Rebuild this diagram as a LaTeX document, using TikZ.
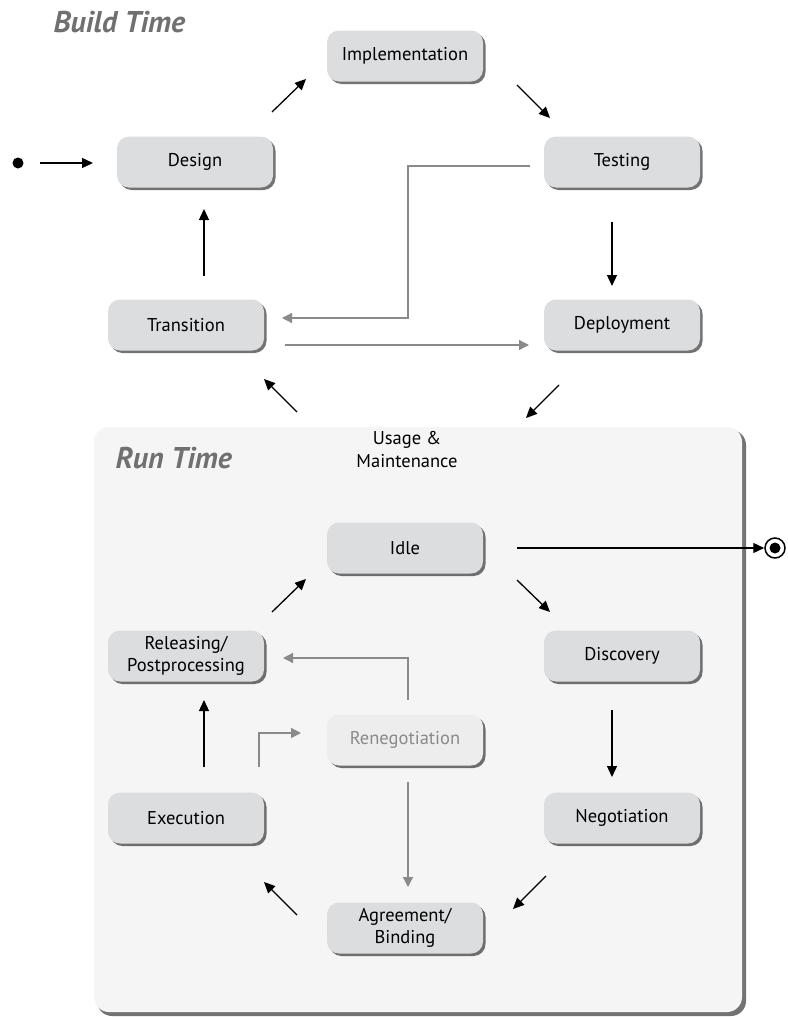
\documentclass[tikz,border=0pt]{standalone}
\usepackage{fontspec}
\setmainfont{PT Sans}
\usetikzlibrary{arrows.meta,shadows,positioning}
\definecolor{boxfill}{HTML}{DCDDDF}
\definecolor{renfill}{HTML}{EDEDED}
\definecolor{runfill}{HTML}{F5F5F5}
\definecolor{titlegray}{HTML}{707070}
\definecolor{linegray}{HTML}{8A8A8A}
\tikzset{
  state/.style={rectangle, rounded corners=12pt, fill=boxfill, minimum width=156pt, minimum height=51pt,
    align=center, font=\fontsize{18.5}{22}\selectfont,
    drop shadow={shadow xshift=2.5pt, shadow yshift=-2.5pt, fill=black, opacity=0.55}},
  faded/.style={state, fill=renfill, text=linegray},
  flow/.style={line width=1.3pt, -{Triangle[length=11pt,width=10pt]}},
  gflow/.style={line width=1.3pt, draw=linegray, -{Triangle[length=10pt,width=10pt]}, color=linegray},
  title/.style={font=\fontsize{30}{34}\selectfont\bfseries\itshape, text=titlegray, anchor=west}
}
\begin{document}
\begin{tikzpicture}[x=1pt,y=-1pt]
\useasboundingbox (0,0) rectangle (787,1017);
% run time panel
\fill[black!55, rounded corners=15pt] (97,430) rectangle (746,1016);
\fill[runfill, rounded corners=15pt] (94,427) rectangle (742,1012);

\node[title] (bt) at (50,22) {Build Time};
\node[title] (rt) at (112,458) {Run Time};
\node[align=center, font=\fontsize{18.5}{23}\selectfont] (usage) at (407,450) {Usage \&\\Maintenance};

\node[state] (impl) at (405,56) {Implementation};
\node[state] (design) at (195,162) {Design};
\node[state] (test) at (622,162) {Testing};
\node[state] (trans) at (186,325) {Transition};
\node[state] (deploy) at (622,325) {Deployment};
\node[state] (idle) at (405,548) {Idle};
\node[state] (disc) at (622,656) {Discovery};
\node[state] (rel) at (186,656) {Releasing/\\Postprocessing};
\node[faded] (reneg) at (405,740) {Renegotiation};
\node[state] (exec) at (186,818) {Execution};
\node[state] (nego) at (622,818) {Negotiation};
\node[state] (agree) at (405,928) {Agreement/\\Binding};

% start and end markers
\fill (18,163) circle (5.5pt);
\coordinate (s1) at (40,163); \coordinate (s2) at (93,163);
\draw[flow] (s1) -- (s2);
\node[circle, draw, line width=1.5pt, minimum size=20pt, inner sep=0pt] (endst) at (775,548) {};
\fill (endst.center) circle (5.5pt);

% black flow arrows
\coordinate (a1) at (272,112); \coordinate (a2) at (306,79);
\draw[flow] (a1) -- (a2);
\coordinate (b1) at (517,85); \coordinate (b2) at (550,118);
\draw[flow] (b1) -- (b2);
\coordinate (c1) at (612,222); \coordinate (c2) at (612,286);
\draw[flow] (c1) -- (c2);
\coordinate (d1) at (559,385); \coordinate (d2) at (526,418);
\draw[flow] (d1) -- (d2);
\coordinate (e1) at (297,412); \coordinate (e2) at (264,379);
\draw[flow] (e1) -- (e2);
\coordinate (f1) at (204,276); \coordinate (f2) at (204,209);
\draw[flow] (f1) -- (f2);

\coordinate (g1) at (517,548);
\draw[flow] (g1) -- (endst.west);
\coordinate (h1) at (517,580); \coordinate (h2) at (550,612);
\draw[flow] (h1) -- (h2);
\coordinate (i1) at (612,710); \coordinate (i2) at (612,777);
\draw[flow] (i1) -- (i2);
\coordinate (j1) at (546,876); \coordinate (j2) at (513,909);
\draw[flow] (j1) -- (j2);
\coordinate (k1) at (297,915); \coordinate (k2) at (264,882);
\draw[flow] (k1) -- (k2);
\coordinate (l1) at (204,767); \coordinate (l2) at (204,700);
\draw[flow] (l1) -- (l2);
\coordinate (m1) at (272,612); \coordinate (m2) at (306,579);
\draw[flow] (m1) -- (m2);

% gray flow arrows
\coordinate (n1) at (530,166); \coordinate (n2) at (408,166);
\coordinate (n3) at (408,318); \coordinate (n4) at (282,318);
\draw[gflow] (n1) -- (n2) -- (n3) -- (n4);
\coordinate (o1) at (285,345); \coordinate (o2) at (529,345);
\draw[gflow] (o1) -- (o2);
\coordinate (p1) at (408,700); \coordinate (p2) at (408,658); \coordinate (p3) at (283,658);
\draw[gflow] (p1) -- (p2) -- (p3);
\coordinate (q1) at (259,767); \coordinate (q2) at (259,733); \coordinate (q3) at (301,733);
\draw[gflow] (q1) -- (q2) -- (q3);
\coordinate (r1) at (408,782); \coordinate (r2) at (408,887);
\draw[gflow] (r1) -- (r2);
\end{tikzpicture}
\end{document}
